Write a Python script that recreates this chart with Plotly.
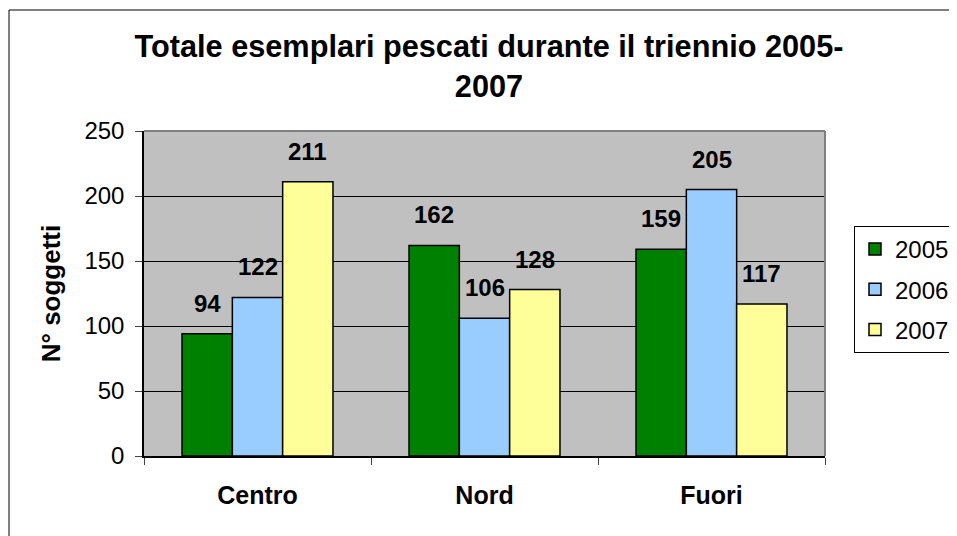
import plotly.graph_objects as go

categories = ["Centro", "Nord", "Fuori"]
series_names = ["2005", "2006", "2007"]
values_2005 = [94, 162, 159]
values_2006 = [122, 106, 205]
values_2007 = [211, 128, 117]
y_ticks = [0, 50, 100, 150, 200, 250]

colors = ["#008000", "#99CCFF", "#FFFF99"]
FONT = "Liberation Sans, Arial, sans-serif"

W, H = 957, 536
# page renders with an 8px offset; positions below are in figure pixels
ml, mr, mt, mb = 136, 140, 123, 88
bargap = 0.335
plot_w = W - ml - mr
plot_h = H - mt - mb

fig = go.Figure()
all_vals = [values_2005, values_2006, values_2007]
for name, vals, col in zip(series_names, all_vals, colors):
    fig.add_trace(go.Bar(
        x=categories, y=vals, name=name,
        marker=dict(color=col, line=dict(color="black", width=1.5)),
        legendgroup=name,
    ))

# data labels above bars
cat_w = plot_w / len(categories)
bar_w = cat_w * (1 - bargap) / len(series_names)
for i, vals in enumerate(all_vals):
    for c, v in zip(categories, vals):
        fig.add_annotation(
            x=c, y=v, xref="x", yref="y", text=f"<b>{v}</b>",
            showarrow=False, yanchor="bottom",
            xshift=(i - 1) * bar_w, yshift=15,
            font=dict(family=FONT, size=24, color="black"),
        )

# plot-area border (top/right gray)
fig.add_shape(type="line", xref="paper", yref="paper", x0=0, x1=1, y0=1, y1=1,
              line=dict(color="#808080", width=2), layer="above")
fig.add_shape(type="line", xref="paper", yref="paper", x0=1, x1=1, y0=0, y1=1,
              line=dict(color="#808080", width=2), layer="above")
# outer chart border
fig.add_shape(type="rect", xref="paper", yref="paper",
              x0=(1 - ml) / plot_w, x1=1.6, y0=-0.5, y1=(H - mb - 2) / plot_h,
              line=dict(color="black", width=1), fillcolor="rgba(0,0,0,0)", layer="below")

fig.update_layout(
    width=W, height=H,
    margin=dict(l=ml, r=mr, t=mt, b=mb, autoexpand=False),
    paper_bgcolor="white",
    plot_bgcolor="#C0C0C0",
    barmode="group", bargap=bargap, bargroupgap=0,
    font=dict(family=FONT, color="black"),
    title=dict(
        text="<b>Totale esemplari pescati durante il triennio 2005-<br>2007</b>",
        x=481 / W, xanchor="center", xref="container",
        y=1 - 49 / H, yanchor="top", yref="container",
        font=dict(family=FONT, size=30.7, color="black"),
    ),
    showlegend=True,
    legend=dict(
        x=(846 - ml) / plot_w, xanchor="left", xref="paper",
        y=(H - mb - 218) / plot_h, yanchor="top", yref="paper",
        bgcolor="white", bordercolor="black", borderwidth=1,
        font=dict(family=FONT, size=24, color="black"),
        traceorder="grouped", tracegroupgap=6,
    ),
    xaxis=dict(
        showline=True, linecolor="black", linewidth=1.5,
        ticks="outside", ticklen=7, tickcolor="#444", tickson="boundaries",
        tickfont=dict(family=FONT, size=25, color="black"),
        tickprefix="<b>", ticksuffix="</b>",
        ticklabelstandoff=16,
        showgrid=False,
    ),
    yaxis=dict(
        range=[0, 250], tickvals=y_ticks,
        showline=True, linecolor="black", linewidth=1.5,
        ticks="outside", ticklen=7, tickcolor="#444",
        tickfont=dict(family=FONT, size=24, color="black"),
        ticklabelstandoff=6,
        showgrid=True, gridcolor="black", gridwidth=1,
        zeroline=False,
        title=dict(text="<b>N° soggetti</b>", font=dict(family=FONT, size=26, color="black"),
                   standoff=16),
    ),
)

fig.write_html("out.html")
